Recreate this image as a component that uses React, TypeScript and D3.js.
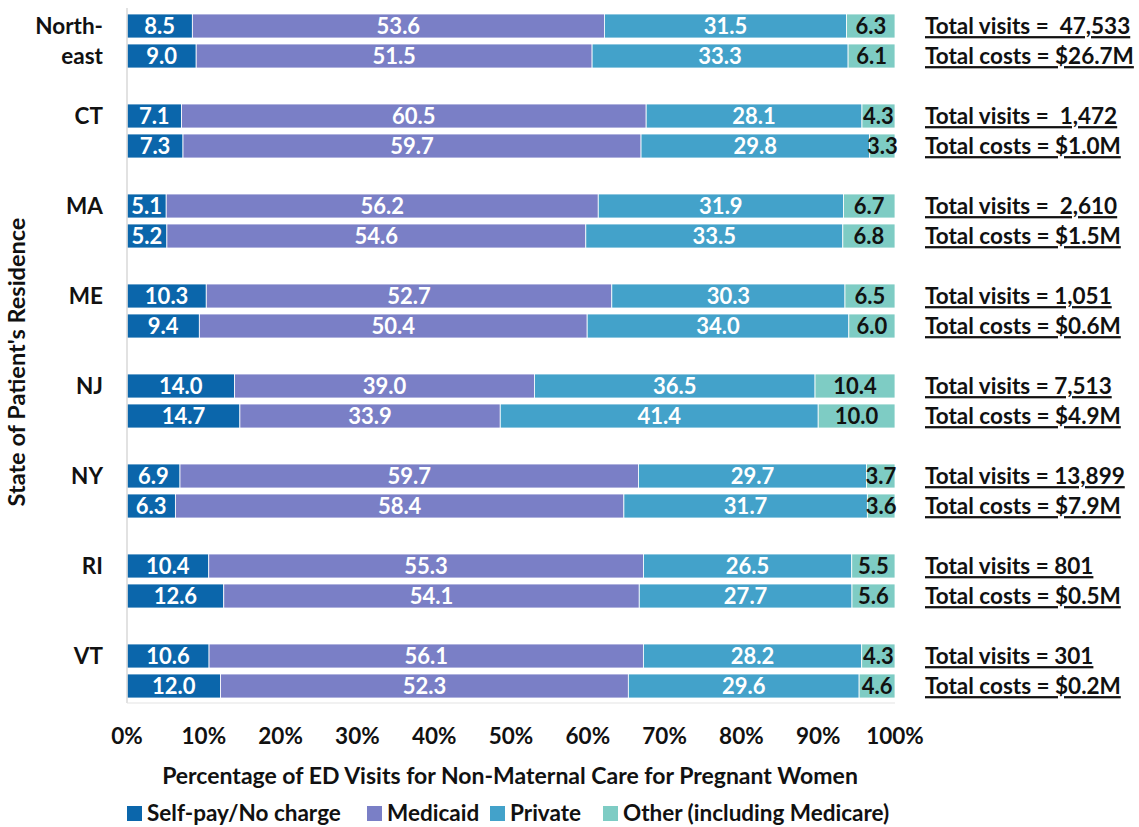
import React from 'react';
import * as d3 from 'd3';

const states = ['Northeast', 'CT', 'MA', 'ME', 'NJ', 'NY', 'RI', 'VT'];
const stateLabels = [['North-', 'east'], ['CT'], ['MA'], ['ME'], ['NJ'], ['NY'], ['RI'], ['VT']];
const rows = ['visits', 'costs'];
const payers = ['Self-pay/No charge', 'Medicaid', 'Private', 'Other (including Medicare)'];
const colors = ['#0B66AB', '#7A7FC6', '#43A2CA', '#7ECCC4'];

// [self-pay, medicaid, private, other] for visits then costs
const visitShares = [
  [8.5, 53.6, 31.5, 6.3],
  [7.1, 60.5, 28.1, 4.3],
  [5.1, 56.2, 31.9, 6.7],
  [10.3, 52.7, 30.3, 6.5],
  [14.0, 39.0, 36.5, 10.4],
  [6.9, 59.7, 29.7, 3.7],
  [10.4, 55.3, 26.5, 5.5],
  [10.6, 56.1, 28.2, 4.3],
];
const costShares = [
  [9.0, 51.5, 33.3, 6.1],
  [7.3, 59.7, 29.8, 3.3],
  [5.2, 54.6, 33.5, 6.8],
  [9.4, 50.4, 34.0, 6.0],
  [14.7, 33.9, 41.4, 10.0],
  [6.3, 58.4, 31.7, 3.6],
  [12.6, 54.1, 27.7, 5.6],
  [12.0, 52.3, 29.6, 4.6],
];
const visitTotals = ['Total visits =  47,533', 'Total visits =  1,472', 'Total visits =  2,610', 'Total visits = 1,051',
  'Total visits = 7,513', 'Total visits = 13,899', 'Total visits = 801', 'Total visits = 301'];
const costTotals = ['Total costs = $26.7M', 'Total costs = $1.0M', 'Total costs = $1.5M', 'Total costs = $0.6M',
  'Total costs = $4.9M', 'Total costs = $7.9M', 'Total costs = $0.5M', 'Total costs = $0.2M'];
const ticks = [0, 10, 20, 30, 40, 50, 60, 70, 80, 90, 100];

const font = 'Lato, "Open Sans", sans-serif';

export default function App() {
  const width = 1139;
  const height = 827;
  const x = d3.scaleLinear().domain([0, 100]).range([127, 895]);
  const y0 = d3.scaleBand().domain(states).range([14, 734]);
  const y1 = d3.scaleBand().domain(rows).range([0, 54]).paddingInner(0.2);

  // 100% stacked: each bar is scaled to its own sum
  const bars = states.flatMap((s, i) =>
    rows.map((r) => {
      const vals = r === 'visits' ? visitShares[i] : costShares[i];
      const sum = d3.sum(vals);
      const ends = Array.from(d3.cumsum(vals)).map((e) => (e / sum) * 100);
      return {
        state: s, row: r, i,
        segs: vals.map((v, k) => ({ v, k, x0: k === 0 ? 0 : ends[k - 1], x1: ends[k] })),
        total: r === 'visits' ? visitTotals[i] : costTotals[i],
      };
    })
  );

  const axisBottom = 703;
  const legendX = [127, 367, 490, 603];

  return (
    <svg width={width} height={height} style={{ position: 'absolute', left: 0, top: 0, background: '#fff' }}
      fontFamily={font} fontWeight="bold">
      {bars.map((b) => {
        const yy = (y0(b.state) as number) + (y1(b.row) as number);
        const bh = y1.bandwidth();
        return (
          <g key={b.state + b.row}>
            {b.segs.map((sg) => (
              <rect key={sg.k} x={x(sg.x0)} y={yy} width={x(sg.x1) - x(sg.x0)} height={bh}
                fill={colors[sg.k]} stroke="#fff" strokeWidth={0.8} />
            ))}
            {b.segs.map((sg) => (
              <text key={'t' + sg.k} x={(x(sg.x0) + x(sg.x1)) / 2} y={yy + bh / 2} dy="0.36em"
                textAnchor="middle" fontSize={22} fill={sg.k === 3 ? '#111' : '#fff'}>
                {sg.v.toFixed(1)}
              </text>
            ))}
            <text x={925} y={yy + bh / 2} dy="0.36em" fontSize={22.5} fill="#111" textDecoration="underline"
              style={{ whiteSpace: 'pre' }}>
              {b.total}
            </text>
          </g>
        );
      })}
      {states.map((s, i) => {
        const lines = stateLabels[i];
        return lines.map((l, j) => {
          const row = lines.length === 1 ? 0 : j;
          const yy = (y0(s) as number) + (y1(rows[row]) as number) + y1.bandwidth() / 2;
          return (
            <text key={s + j} x={103} y={yy} dy="0.36em" textAnchor="end" fontSize={22.5} fill="#111">{l}</text>
          );
        });
      })}
      <line x1={127} x2={127} y1={8} y2={axisBottom} stroke="#d9d9d9" strokeWidth={1.5} />
      <line x1={127} x2={895} y1={axisBottom} y2={axisBottom} stroke="#e3e3e3" strokeWidth={1} />
      {ticks.map((t) => (
        <text key={t} x={x(t)} y={736} dy="0.36em" textAnchor="middle" fontSize={22.5} fill="#111">{t}%</text>
      ))}
      <text x={510} y={776} dy="0.36em" textAnchor="middle" fontSize={23} fill="#111">
        Percentage of ED Visits for Non-Maternal Care for Pregnant Women
      </text>
      <text transform={`translate(17,362) rotate(-90)`} dy="0.36em" textAnchor="middle" fontSize={23.5} fill="#111">
        State of Patient's Residence
      </text>
      {payers.map((p, k) => (
        <g key={p}>
          <rect x={legendX[k]} y={806} width={15} height={15} fill={colors[k]} />
          <text x={legendX[k] + 20} y={813} dy="0.36em" fontSize={22.5} fill="#111">{p}</text>
        </g>
      ))}
    </svg>
  );
}
